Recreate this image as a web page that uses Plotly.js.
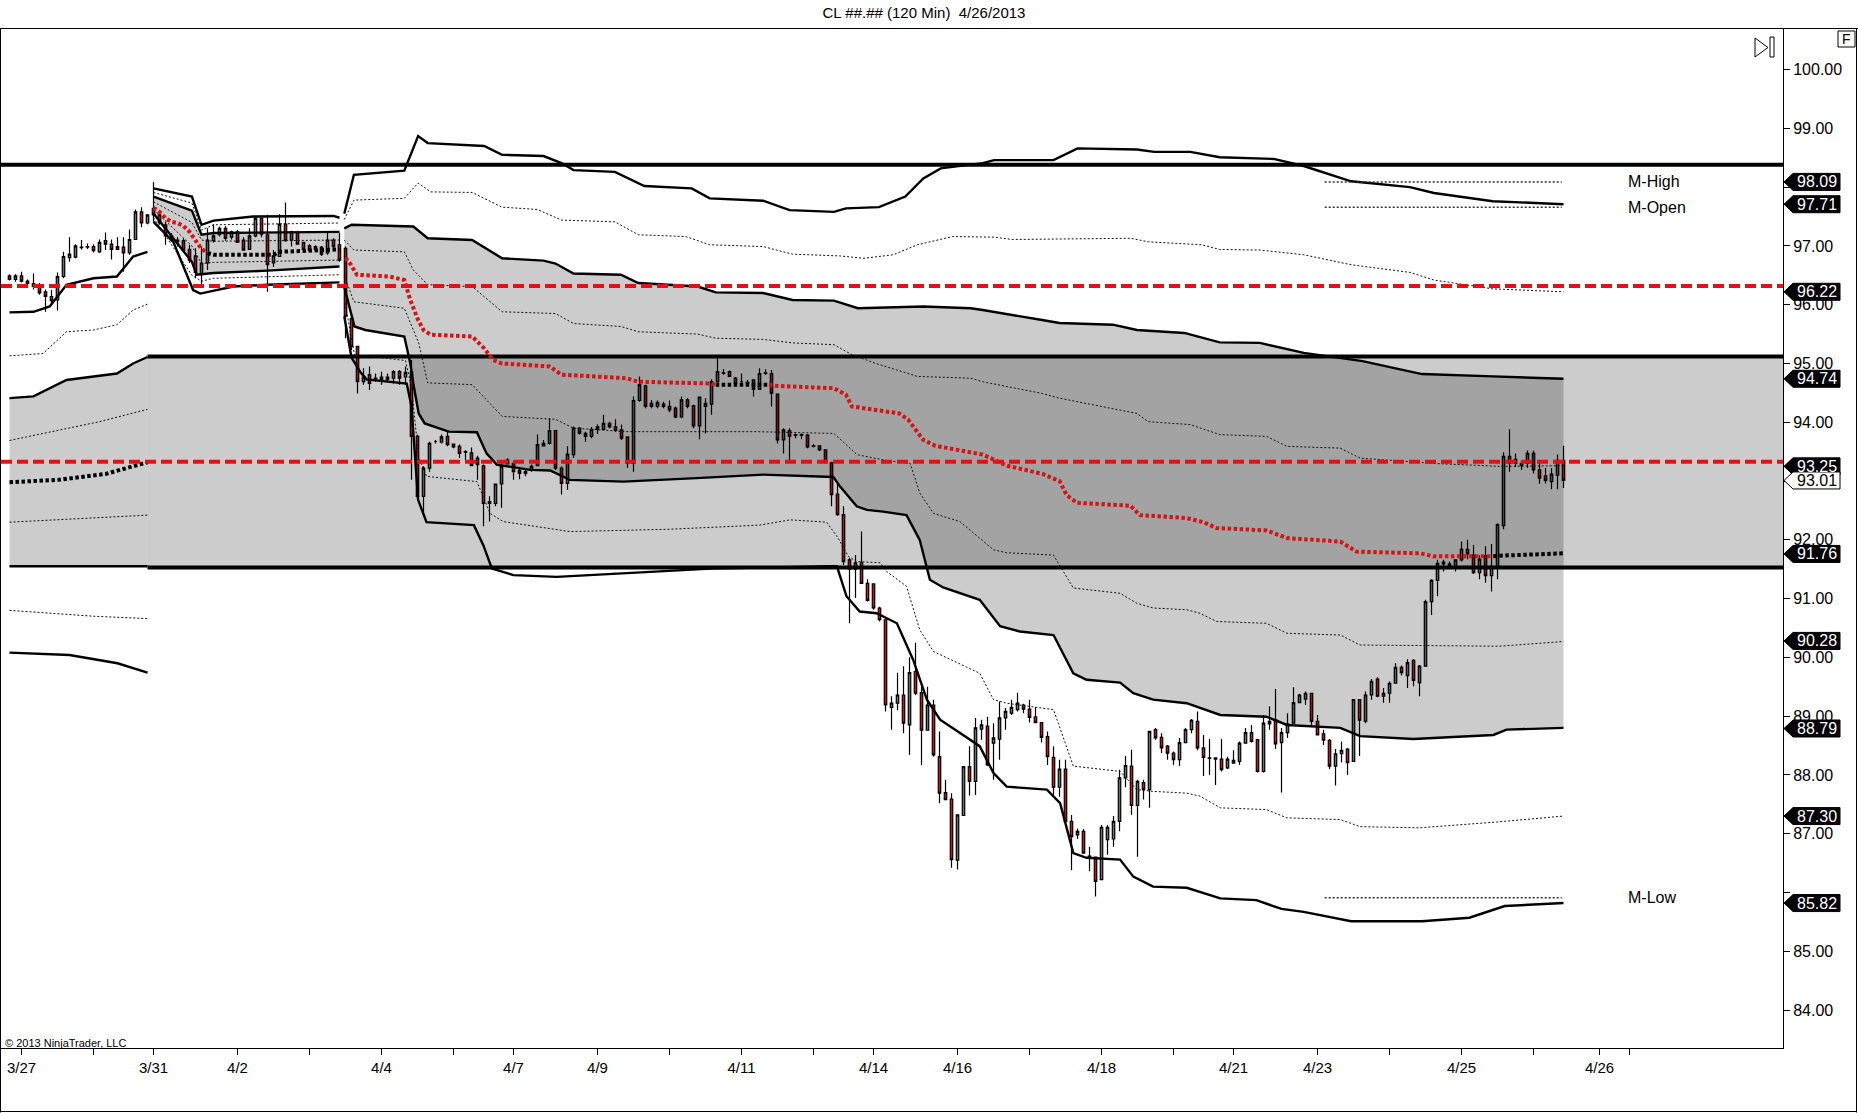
<!DOCTYPE html>
<html><head><meta charset="utf-8">
<script src="https://cdn.plot.ly/plotly-3.0.1.min.js"></script>
<style>html,body{margin:0;padding:0;background:#fff;}#chart{width:1858px;height:1113px;}</style>
</head><body><div id="chart"></div>
<script>
// ---------------- DATA ----------------
const O = [96.49,96.43,96.49,96.40,96.36,96.31,96.22,96.14,96.08,96.48,96.80,96.81,96.97,96.98,96.99,96.90,97.09,97.03,96.94,96.98,96.88,97.11,97.58,97.39,
97.64,97.53,97.36,97.17,97.10,97.09,96.94,96.83,96.51,96.71,97.09,97.19,97.30,97.15,97.24,97.10,96.94,97.17,97.47,97.19,96.71,96.82,97.37,97.10,97.23,97.06,97.00,96.94,96.98,96.88,97.10,97.02,
96.96,95.77,95.29,94.69,94.81,94.75,94.73,94.77,94.75,94.86,94.77,94.86,93.76,92.74,93.22,93.67,93.66,93.76,93.63,93.59,93.50,93.48,93.39,93.26,92.62,92.62,92.95,93.36,93.30,93.18,93.16,93.18,93.26,93.60,
93.64,93.86,93.22,92.96,93.45,93.90,93.81,93.76,93.88,93.88,93.98,93.92,93.87,93.75,93.30,94.37,94.62,94.32,94.27,94.31,94.27,94.24,94.09,94.38,94.28,93.94,94.27,94.31,94.69,94.83,94.86,94.75,94.69,94.68,
94.72,94.56,94.84,94.83,94.48,93.70,93.86,93.79,93.78,93.78,93.59,93.60,93.53,93.31,92.78,92.43,91.66,91.50,91.61,91.26,91.25,90.84,90.64,89.15,89.22,89.36,88.85,89.76,89.40,88.76,89.19,88.31,87.70,87.59,
86.55,87.31,88.14,87.89,88.78,88.83,88.54,88.61,88.97,89.05,89.11,89.19,89.12,88.99,88.89,88.65,88.30,87.79,88.10,87.21,86.98,87.04,86.62,86.60,86.22,86.90,86.91,87.21,87.95,88.15,87.48,87.87,87.75,88.77,
88.64,88.49,88.37,88.26,88.55,88.77,88.91,88.46,88.29,88.29,88.27,88.12,88.20,88.23,88.54,88.72,88.60,88.06,88.87,88.94,88.55,88.72,88.88,89.23,89.29,89.39,88.91,88.70,88.59,88.15,88.36,88.44,88.23,89.28,
88.91,89.36,89.63,89.34,89.39,89.56,89.83,89.69,89.95,89.57,89.85,90.95,91.31,91.59,91.55,91.52,91.66,91.84,91.74,91.44,91.73,91.39,91.55,92.24,93.42,93.37,93.26,93.30,93.47,93.19,93.09,92.99,93.10,93.35];
const H = [96.52,96.52,96.56,96.43,96.53,96.37,96.26,96.25,96.55,96.90,97.15,97.03,97.10,97.04,97.03,97.11,97.23,97.11,97.15,97.15,97.28,97.62,97.66,97.54,
98.09,97.56,97.41,97.22,97.15,97.13,97.02,96.96,96.99,97.30,97.37,97.33,97.34,97.26,97.27,97.15,97.30,97.50,97.51,97.53,96.93,97.54,97.74,97.26,97.26,97.07,97.03,97.01,97.00,97.23,97.13,97.22,
96.99,95.80,95.30,94.92,94.95,94.83,94.86,94.83,94.89,94.89,94.95,95.06,93.79,93.25,93.67,93.70,93.79,93.87,93.64,93.62,93.53,93.57,93.43,93.28,92.74,92.96,93.36,93.39,93.33,93.22,93.22,93.28,93.79,93.70,
94.07,93.87,93.25,93.59,93.93,93.92,93.84,93.92,93.96,94.13,94.01,94.05,93.96,93.76,94.44,94.78,94.64,94.38,94.37,94.35,94.37,94.27,94.44,94.41,94.30,94.44,94.41,94.73,95.09,94.90,94.88,94.77,94.83,94.72,
94.73,94.92,94.90,94.89,94.49,93.90,93.90,93.81,93.81,93.80,93.63,93.61,93.54,93.33,92.95,92.57,91.69,91.74,92.14,91.33,91.26,90.86,90.64,89.34,89.74,89.85,90.00,90.25,89.50,89.50,89.28,88.74,87.92,87.69,
87.32,88.14,88.49,88.97,88.94,88.99,88.88,89.25,89.14,89.28,89.40,89.21,89.28,89.15,88.90,88.74,88.49,88.26,88.26,87.32,87.09,87.08,86.78,86.60,87.15,87.15,87.30,88.09,88.32,88.43,87.92,87.92,88.74,88.80,
88.71,88.51,88.40,88.63,88.80,88.95,89.08,88.68,88.61,88.30,88.61,88.31,88.42,88.57,88.80,88.85,88.61,89.02,89.17,89.46,88.80,89.05,89.49,89.38,89.42,89.40,89.02,88.77,88.61,88.44,88.57,88.46,89.29,89.29,
89.42,89.63,89.66,89.48,89.59,89.90,89.86,89.97,89.97,89.87,90.98,91.33,91.66,91.66,91.63,91.67,91.97,92.00,91.91,91.74,91.89,91.93,92.28,93.49,93.88,93.47,93.35,93.52,93.52,93.33,93.22,93.22,93.45,93.60];
const L = [96.41,96.39,96.38,96.35,96.26,96.17,95.88,96.03,95.90,96.45,96.73,96.79,96.94,96.95,96.89,96.88,96.93,96.77,96.93,96.56,96.85,97.10,97.32,97.37,
97.41,97.36,97.02,97.07,96.99,96.90,96.71,96.45,96.30,96.59,97.06,97.16,97.09,97.11,97.05,96.92,96.93,97.15,97.15,96.22,96.64,96.81,97.07,96.99,97.02,96.93,96.90,96.92,96.83,96.85,96.93,96.73,
95.43,95.23,94.49,94.64,94.55,94.69,94.64,94.69,94.66,94.64,94.64,93.02,92.70,92.42,93.16,93.64,93.64,93.59,93.56,93.39,93.36,93.25,93.02,92.23,92.31,92.57,92.54,93.29,93.02,93.03,93.08,93.16,93.25,93.59,
93.62,93.19,92.77,92.85,93.39,93.79,93.67,93.73,93.80,93.87,93.90,93.84,93.70,93.22,93.16,94.35,94.24,94.24,94.24,94.24,94.17,94.07,94.07,94.24,93.90,93.71,93.81,94.13,94.67,94.81,94.77,94.64,94.64,94.64,
94.44,94.55,94.81,94.27,93.64,93.47,93.36,93.73,93.71,93.56,93.57,93.51,93.30,92.57,92.41,91.57,90.58,91.01,91.25,90.95,90.81,90.61,89.08,88.77,89.10,88.71,88.34,89.36,88.17,88.76,88.31,87.52,87.57,86.42,
86.39,87.30,87.65,87.66,88.60,88.15,87.92,88.26,88.77,89.02,89.08,89.05,88.89,88.88,88.55,88.17,87.66,87.63,87.18,86.38,86.91,86.66,86.36,85.93,86.22,86.64,86.78,87.04,87.79,87.32,86.61,87.58,87.44,88.60,
88.37,88.26,88.17,88.15,88.54,88.71,88.42,87.98,88.00,87.83,88.06,88.10,88.19,88.17,88.54,88.55,88.04,88.04,88.77,88.44,87.70,88.63,88.87,89.22,89.19,88.84,88.67,88.51,88.10,87.82,88.21,88.00,88.23,88.32,
88.88,89.28,89.32,89.23,89.23,89.55,89.69,89.48,89.51,89.34,89.85,90.72,91.04,91.46,91.52,91.46,91.63,91.67,91.42,91.33,91.27,91.12,91.33,92.18,93.16,93.24,93.19,93.22,93.13,92.95,92.96,92.86,92.86,92.88];
const C = [96.43,96.49,96.40,96.36,96.31,96.20,96.14,96.07,96.48,96.82,96.86,97.00,96.98,96.99,96.92,97.06,97.03,96.94,96.99,96.88,97.11,97.58,97.39,97.53,
97.53,97.39,97.17,97.10,97.07,96.93,96.76,96.55,96.71,97.10,97.17,97.30,97.13,97.24,97.06,96.93,97.17,97.47,97.20,96.68,96.83,97.37,97.09,97.24,97.03,96.94,96.93,96.99,96.86,97.10,96.99,96.76,
95.80,95.29,94.69,94.77,94.66,94.74,94.77,94.73,94.86,94.75,94.85,93.76,92.74,93.22,93.64,93.67,93.75,93.62,93.58,93.47,93.49,93.26,93.28,92.62,92.65,92.95,93.25,93.29,93.16,93.13,93.13,93.25,93.62,93.64,
93.86,93.22,92.96,93.46,93.90,93.81,93.76,93.88,93.92,93.98,93.92,93.86,93.73,93.30,94.37,94.64,94.27,94.27,94.34,94.27,94.21,94.09,94.38,94.27,93.94,94.43,94.32,94.69,94.86,94.84,94.78,94.66,94.69,94.67,
94.56,94.83,94.83,94.49,93.70,93.87,93.76,93.78,93.79,93.58,93.60,93.53,93.33,92.77,92.43,91.63,91.50,91.61,91.26,90.97,90.84,90.64,89.19,89.22,89.36,88.88,89.74,89.39,88.76,89.19,88.34,87.69,87.58,86.56,
87.32,88.14,87.89,88.80,88.85,88.17,88.63,88.97,89.08,89.15,89.22,89.12,88.98,88.89,88.64,88.31,87.79,88.10,87.21,86.95,87.04,86.67,86.61,86.19,87.11,87.11,87.21,87.95,88.16,87.48,87.89,87.75,88.74,88.63,
88.46,88.37,88.26,88.55,88.77,88.93,88.46,88.30,88.28,88.27,88.09,88.27,88.25,88.54,88.72,88.57,88.06,88.88,88.91,88.53,88.72,88.87,89.23,89.36,89.39,88.91,88.68,88.59,88.15,88.36,88.42,88.21,89.28,88.93,
89.36,89.59,89.34,89.39,89.56,89.83,89.74,89.91,89.61,89.85,90.95,91.31,91.60,91.62,91.59,91.66,91.84,91.76,91.44,91.67,91.39,91.55,92.26,93.42,93.30,93.30,93.30,93.47,93.19,93.05,93.01,93.12,93.35,93.01];

// Week 1 (3/27-3/28) bands
const w1P2x=[0,4,6.7,9.5,14,17.9,20.6,23], w1P2=[95.87,95.88,95.97,96.34,96.45,96.48,96.82,96.90];
const w1P15x=[0,5.6,9.5,14,17.9,20.6,23], w1P15=[95.13,95.17,95.54,95.57,95.66,95.91,96.01];
const w1P1x=[0,4,9.5,14,17.9,20.6,23], w1P1=[94.41,94.44,94.72,94.78,94.83,95.00,95.11];
const w1P05x=[0,8.4,15,23], w1P05=[93.69,93.87,94.01,94.22];
const w1Vx=[0,8,16,23], w1V=[92.98,93.02,93.12,93.32];
const w1M05x=[0,23], w1M05=[92.30,92.42];
const w1M1x=[0,23], w1M1=[91.55,91.55];
const w1M15x=[0,14,23], w1M15=[90.80,90.70,90.66];
const w1M2x=[0,10,18,23], w1M2=[90.08,90.04,89.90,89.74];

// Week 2 (3/31-4/3) bands
const w2P2x=[24,30.4,32,34,40.6,54,55], w2P2=[97.98,97.84,97.36,97.43,97.50,97.51,97.48];
const w2P15x=[24,30.4,32,34,55], w2P15=[97.91,97.73,97.27,97.36,97.39];
const w2P1x=[24,30.4,32,34,55], w2P1=[97.84,97.60,97.19,97.22,97.24];
const w2P05x=[24,30.4,32,34,55], w2P05=[97.75,97.40,97.10,97.08,97.10];
const w2VRx=[24,25,26,27,28,29,30,31,32,33], w2VR=[97.65,97.58,97.47,97.41,97.39,97.34,97.24,97.10,96.95,96.88];
const w2VBx=[33,34,44,45,55], w2VB=[96.88,96.85,96.85,96.90,96.94];
const w2M05x=[24,30.4,32,34,55], w2M05=[97.62,97.00,96.70,96.72,96.76];
const w2M1x=[24,27.3,30.4,31.2,34,43,55], w2M1=[97.55,97.13,96.73,96.51,96.54,96.58,96.65];
const w2M15x=[24,30.4,32,34,55], w2M15=[97.48,96.50,96.40,96.45,96.51];
const w2M2x=[24,27.3,30.6,31.8,37.3,43,55], w2M2=[97.41,97.07,96.25,96.19,96.31,96.34,96.38];

// Developing bands from 4/3
const bP2x=[55.8,57.4,65.8,68.1,69.7,79.1,82.1,89.0,92.0,94.0,100.9,105.8,113.7,116.7,125.6,130.0,137.4,139.4,144.9,149.3,152.3,155.2,162.2,164.1,174.0,178.0,187.9,190.8,196.8,201.7,210.7,215.7,223.6,233.4,237.4,247.2,259];
const bP2=[97.55,98.21,98.28,98.87,98.75,98.70,98.55,98.53,98.41,98.29,98.26,98.02,97.98,97.81,97.77,97.61,97.58,97.64,97.66,97.84,98.15,98.32,98.41,98.46,98.46,98.66,98.64,98.60,98.60,98.51,98.48,98.36,98.10,98.00,97.90,97.76,97.71];
const bP15x=[55.8,57.4,65.8,68.1,70.2,77.1,82.1,88.0,92.0,100.9,104.8,112.7,116.7,125.6,130.5,138.4,142.4,147.3,151.3,157.2,164.1,167.1,186.9,189.8,198.7,201.7,208.4,215.7,223.6,233.4,237.4,247.2,259];
const bP15=[97.45,97.78,97.81,98.07,97.92,97.91,97.66,97.62,97.44,97.41,97.19,97.16,97.02,96.99,96.86,96.83,96.79,96.85,97.02,97.16,97.15,97.11,97.13,97.07,97.02,96.94,96.93,96.85,96.68,96.55,96.42,96.27,96.22];
const bP1x=[55.8,57,67.3,69.7,77.1,82.1,89.0,91.0,94.0,101.9,104.8,114.7,117.7,125.6,130.5,137.4,141.4,152.3,160.2,162.2,172.1,175.0,183.9,187.9,195.8,201.7,208.4,215.7,225.5,235.4,247.2,259];
const bP1=[97.30,97.36,97.33,97.13,97.10,96.79,96.75,96.70,96.53,96.51,96.37,96.31,96.21,96.20,96.08,96.07,95.94,95.97,95.94,95.91,95.74,95.69,95.66,95.57,95.52,95.36,95.35,95.18,95.04,94.82,94.78,94.74];
const bP05x=[55.8,57.4,65.8,67.3,69.7,77.1,82.1,91.0,94.0,101.9,104.8,114.7,117.7,125.6,130.5,137.4,140.4,144.4,151.3,160.2,162.2,172.1,175.0,187.9,189.8,196.8,201.7,209.5,212.9,221.8,225.1,237.3,248.4,259];
const bP05=[97.10,96.93,96.90,96.59,96.34,96.31,95.88,95.85,95.68,95.63,95.54,95.50,95.43,95.41,95.35,95.32,95.15,95.00,94.78,94.75,94.69,94.49,94.41,94.15,94.01,93.96,93.79,93.76,93.59,93.56,93.39,93.30,93.25,93.26];
const vR1x=[56,56.9,57.9,63.3,65.8,66.8,68.1,69.0,70.2,77.1,79.1,80.6,82.1,90.0,92.0,102.8,104.8,116.7,117.7];
const vR1=[96.80,96.68,96.51,96.48,96.42,96.08,95.74,95.57,95.49,95.46,95.26,95.06,95.00,94.95,94.81,94.75,94.69,94.66,94.64];
const vB1x=[117.7,126.6], vB1=[94.64,94.64];
const vR2x=[126.6,127.6,137.4,139.4,140.4,148.3,149.8,152.3,154.3,162.2,166.3,172.2,175,176.2,177.9,186.8,188.4,196.2,199,201.2,209.5,212.9,221.8,224.5,235.1,237.3,247.3];
const vR2=[94.64,94.62,94.58,94.47,94.27,94.15,94.04,93.70,93.60,93.45,93.26,93.12,93.00,92.76,92.63,92.58,92.42,92.37,92.30,92.20,92.16,92.03,91.97,91.80,91.77,91.72,91.72];
const vB2x=[247.3,248.4,259], vB2=[91.72,91.73,91.77];
const bM05x=[55.8,57.4,65.8,67.3,68.2,69.7,77.1,82.1,91.0,94.0,102.8,124.6,137.4,140.4,141.2,145.6,150.1,151.7,154,158.4,164,166.2,174,177.3,185.1,187.9,190.6,196.2,198.4,201.2,209.5,212.9,221.8,225.1,248.4,259];
const bM05=[96.50,96.05,95.94,95.57,95.35,94.67,94.64,94.10,94.05,93.90,93.84,93.84,93.81,93.53,93.45,93.36,93.30,92.80,92.45,92.31,91.83,91.78,91.74,91.18,91.09,90.92,90.84,90.81,90.75,90.61,90.58,90.41,90.38,90.21,90.19,90.27];
const bM1x=[55.8,57.5,59.3,65.8,66.8,67.3,68.2,69.2,73.2,77.9,79.5,81.2,86.8,90.1,93.4,102.3,114.5,125.6,137.3,138.4,141.2,142.9,145.6,149.5,151.7,153.4,155.6,161.7,165.1,168.4,174.0,177.3,179.5,185.1,187.3,190.6,196.2,201.8,209.5,212.9,221.8,225.1,234,242.9,247.3,249.5,259];
const bM1=[96.30,95.63,95.57,95.46,95.00,94.66,94.15,93.98,93.84,93.83,93.47,93.28,93.19,93.18,93.02,92.99,93.05,93.11,93.07,92.91,92.57,92.51,92.48,92.42,92.00,91.32,91.19,90.98,90.53,90.44,90.38,89.73,89.62,89.57,89.39,89.28,89.22,89.02,88.99,88.85,88.80,88.66,88.61,88.66,88.68,88.77,88.80];
const bM15x=[55.8,57.5,66,67,68.2,69.5,77.9,80.1,82.3,93.4,110,125,130.1,136.2,138.1,139.8,141.2,145.1,146.2,149.5,151.7,154,161.7,164,166.2,174,177.3,185.1,187.9,190.6,196.2,198.4,201.8,209.5,212.9,221.8,225.1,235,248,259];
const bM15=[96.10,95.15,95.05,94.60,93.40,93.08,92.99,92.45,92.31,92.14,92.18,92.25,92.34,92.30,92.03,91.72,91.63,91.61,91.46,91.21,90.47,90.10,89.73,89.28,89.22,89.11,88.15,88.06,87.75,87.72,87.69,87.64,87.44,87.41,87.27,87.24,87.12,87.10,87.20,87.30];
const bM2x=[55.8,57,58.5,59.5,66.2,67,68.1,69.5,77.4,79,80.4,84,91.2,105.1,116.9,136.7,137.9,139.5,141.7,144.5,147.9,150.6,152.9,155.1,158.4,161.7,164,166.2,172.9,175.1,177.3,179.5,185.1,187.3,190.6,196.2,201.8,207.8,212,215.7,223.6,235.4,243.3,249.2,259];
const bM2=[95.80,95.10,94.85,94.73,94.66,94.27,92.68,92.30,92.25,91.90,91.51,91.40,91.37,91.45,91.51,91.55,91.55,91.04,90.78,90.75,90.58,89.96,89.28,88.94,88.71,88.49,88.03,87.80,87.75,87.52,86.67,86.59,86.56,86.27,86.10,86.08,85.90,85.87,85.72,85.67,85.51,85.51,85.57,85.77,85.82];

// Horizontal levels
const monthTop = 98.38, vaHigh = 95.12, vaLow = 91.53, vaStart = 23;
const redLevels = [96.32, 93.33];
const mNames = ['M-High','M-Open','M-Low'], mValues = [98.09, 97.66, 85.91], mStart = 219.2, mEnd = 258.7, mLabelX = 269.4;
const tagValues = [98.09, 97.71, 96.22, 94.74, 93.25, 91.76, 90.28, 88.79, 87.30, 85.82];
const lastPrice = 93.01;
const xTickVals = [2,14,24,38,50,62,74,84,98,110,122,134,144,158,170,182,194,204,218,230,242,254,265,270];
const xTickText = ['3/27','','3/31','4/2','','4/4','','4/7','4/9','','4/11','','4/14','4/16','','4/18','','4/21','4/23','','4/25','','4/26',''];
const yTickVals = [84,85,86,87,88,89,90,91,92,93,94,95,96,97,98,99,100];
const yTicksUnderTags = [86, 93, 98];   // labels covered by price tags in the reference

// ---------------- LAYOUT GEOMETRY ----------------
const W = 1858, HGT = 1113, mL = 1, mR = 75, mT = 28, mB = 65;
const PW = W - mL - mR, PH = HGT - mT - mB;
const XMIN = -1.417, XMAX = 295.58, YMIN = 83.354, YMAX = 100.708;
const px = p => (p - mL) / PW;            // pixel -> paper x
const py = p => 1 - (p - mT) / PH;        // pixel -> paper y
const FONT = "'Liberation Sans', Arial, Helvetica, sans-serif";
const RED_DOT = '#D41515', RED_CANDLE = '#C81414', RED_LINE = '#DC1414';

const traces = [];
const fillC = 'rgba(0,0,0,0.2)';
function fillBand(xu, yu, xl, yl) {
  traces.push({type:'scatter', mode:'none', x: xu.concat(xl.slice().reverse()), y: yu.concat(yl.slice().reverse()),
    fill:'toself', fillcolor: fillC, hoverinfo:'skip', showlegend:false});
}
function ln(x, y, line) {
  traces.push({type:'scatter', mode:'lines', x, y, line: Object.assign({shape:'linear'}, line), hoverinfo:'skip', showlegend:false});
}
const THICK = {color:'#000', width:2.4};
const THIN = {color:'#111', width:1, dash:'2px,2px'};
const DOTR = {color:RED_DOT, width:4, dash:'3.5px,2.5px'};
const DOTB = {color:'#000', width:4, dash:'3.5px,2.5px'};

// fills
traces.push({type:'scatter', mode:'none', x:[vaStart, XMAX, XMAX, vaStart], y:[vaLow, vaLow, vaHigh, vaHigh], fill:'toself', fillcolor: fillC, hoverinfo:'skip', showlegend:false});
fillBand(w1P1x, w1P1, w1M1x, w1M1);
fillBand(w2P1x, w2P1, w2M1x, w2M1);
fillBand(bP1x, bP1, bM1x, bM1);

// horizontal thick levels
ln([XMIN, XMAX], [monthTop, monthTop], {color:'#000', width:4});
ln([vaStart, XMAX], [vaHigh, vaHigh], {color:'#000', width:4});
ln([vaStart, XMAX], [vaLow, vaLow], {color:'#000', width:4});

// week 1
ln(w1P2x, w1P2, THICK); ln(w1P15x, w1P15, THIN); ln(w1P1x, w1P1, THICK); ln(w1P05x, w1P05, THIN);
ln(w1M05x, w1M05, THIN); ln(w1M1x, w1M1, THICK); ln(w1M15x, w1M15, THIN); ln(w1M2x, w1M2, THICK);
ln(w1Vx, w1V, DOTB);
// week 2
ln(w2P2x, w2P2, THICK); ln(w2P15x, w2P15, THIN); ln(w2P1x, w2P1, THICK); ln(w2P05x, w2P05, THIN);
ln(w2M05x, w2M05, THIN); ln(w2M1x, w2M1, THICK); ln(w2M15x, w2M15, THIN); ln(w2M2x, w2M2, THICK);
ln(w2VRx, w2VR, DOTR); ln(w2VBx, w2VB, DOTB);
// developing bands
ln(bP2x, bP2, THICK); ln(bP15x, bP15, THIN); ln(bP1x, bP1, THICK); ln(bP05x, bP05, THIN);
ln(bM05x, bM05, THIN); ln(bM1x, bM1, THICK); ln(bM15x, bM15, THIN); ln(bM2x, bM2, THICK);
ln(vR1x, vR1, DOTR); ln(vB1x, vB1, DOTB); ln(vR2x, vR2, DOTR); ln(vB2x, vB2, DOTB);

// M levels
mValues.forEach(v => ln([mStart, mEnd], [v, v], {color:'#333', width:1.5, dash:'2px,2px'}));

// candles
const barIdx = O.map((_, k) => k);
traces.push({type:'candlestick', x: barIdx, open:O, high:H, low:L, close:C,
  increasing:{line:{color:'#000', width:1.2}, fillcolor:'#6E6E6E'},
  decreasing:{line:{color:'#000', width:1.2}, fillcolor:RED_CANDLE},
  whiskerwidth:0, hoverinfo:'skip', showlegend:false});

// red dashed levels
redLevels.forEach(v => ln([XMIN, XMAX], [v, v], {color:RED_LINE, width:4, dash:'11px,5px'}));

// ---------------- SHAPES & ANNOTATIONS ----------------
const shapes = [];
const annotations = [];
const frame = {color:'#000', width:1};
shapes.push({type:'line', xref:'paper', yref:'paper', x0:px(0), x1:px(W), y0:py(mT+0.5), y1:py(mT+0.5), line:frame, layer:'above'});
shapes.push({type:'line', xref:'paper', yref:'paper', x0:px(0.5), x1:px(0.5), y0:py(mT), y1:py(HGT-0.5), line:frame, layer:'above'});
shapes.push({type:'line', xref:'paper', yref:'paper', x0:px(W-1.5), x1:px(W-1.5), y0:py(mT), y1:py(HGT-0.5), line:frame, layer:'above'});
shapes.push({type:'line', xref:'paper', yref:'paper', x0:px(0), x1:px(W-1), y0:py(HGT-1.5), y1:py(HGT-1.5), line:frame, layer:'above'});
// F box
shapes.push({type:'rect', xref:'paper', yref:'paper', x0:px(1838), x1:px(1855), y0:py(31), y1:py(47), line:frame, fillcolor:'#fff', layer:'above'});
annotations.push({xref:'paper', yref:'paper', x:px(1846.5), y:py(39), text:'F', showarrow:false, font:{family:FONT, size:14, color:'#000'}, xanchor:'center', yanchor:'middle'});
// play-to-end icon
shapes.push({type:'path', xref:'paper', yref:'paper', path:`M${px(1755)},${py(38)} L${px(1755)},${py(57)} L${px(1768)},${py(47.5)} Z`, line:{color:'#000', width:1}, layer:'above'});
shapes.push({type:'rect', xref:'paper', yref:'paper', x0:px(1770), x1:px(1774), y0:py(37), y1:py(57), line:{color:'#000', width:1}, layer:'above'});

// price tags
const tagPath = 'M1,0 L10,8.5 L57,8.5 L57,-8.5 L10,-8.5 Z';
tagValues.forEach(v => {
  shapes.push({type:'path', xref:'paper', yref:'y', xsizemode:'pixel', ysizemode:'pixel', xanchor:1, yanchor:v, path:tagPath, fillcolor:'#000', line:{color:'#000', width:1}, layer:'above'});
  annotations.push({xref:'paper', yref:'y', x:px(1817), y:v, text:v.toFixed(2), showarrow:false, font:{family:FONT, size:16, color:'#fff'}, xanchor:'center', yanchor:'middle'});
});
shapes.push({type:'path', xref:'paper', yref:'y', xsizemode:'pixel', ysizemode:'pixel', xanchor:1, yanchor:lastPrice, path:tagPath, fillcolor:'#fff', line:{color:'#000', width:1}, layer:'above'});
annotations.push({xref:'paper', yref:'y', x:px(1817), y:lastPrice, text:lastPrice.toFixed(2), showarrow:false, font:{family:FONT, size:16, color:'#000'}, xanchor:'center', yanchor:'middle'});

// M labels
mNames.forEach((n, k) => annotations.push({xref:'x', yref:'y', x:mLabelX, y:mValues[k], text:n, showarrow:false, xanchor:'left', yanchor:'middle', font:{family:FONT, size:16, color:'#000'}}));
// copyright
annotations.push({xref:'paper', yref:'paper', x:px(3), y:py(1043), text:'© 2013 NinjaTrader, LLC', showarrow:false, xanchor:'left', yanchor:'middle', font:{family:FONT, size:11, color:'#000'}});

const yTickText = yTickVals.map(v => yTicksUnderTags.includes(v) ? '' : v.toFixed(2));

const layout = {
  width: W, height: HGT,
  margin: {l:mL, r:mR, t:mT, b:mB, pad:0},
  paper_bgcolor:'#fff', plot_bgcolor:'#fff',
  showlegend:false, hovermode:false, boxgap:0.42,
  title: {text:'CL ##.## (120 Min) \u00a04/26/2013', x:924/W, y:1 - 13/HGT, xref:'container', yref:'container', xanchor:'center', yanchor:'middle', font:{family:FONT, size:15, color:'#000'}},
  font: {family:FONT, color:'#000'},
  xaxis: {range:[XMIN, XMAX], type:'linear', showgrid:false, zeroline:false, showline:true, linecolor:'#000', linewidth:1,
    ticks:'outside', ticklen:6, tickcolor:'#000', tickvals:xTickVals, ticktext:xTickText, tickfont:{family:FONT, size:15, color:'#000'},
    rangeslider:{visible:false}, fixedrange:true, automargin:false},
  yaxis: {range:[YMIN, YMAX], side:'right', showgrid:false, zeroline:false, showline:true, linecolor:'#000', linewidth:1,
    ticks:'outside', ticklen:6, tickcolor:'#000', tickvals:yTickVals, ticktext:yTickText, tickfont:{family:FONT, size:16, color:'#000'},
    fixedrange:true, automargin:false},
  shapes, annotations
};
Plotly.newPlot('chart', traces, layout, {staticPlot:true, displayModeBar:false});
</script></body></html>
